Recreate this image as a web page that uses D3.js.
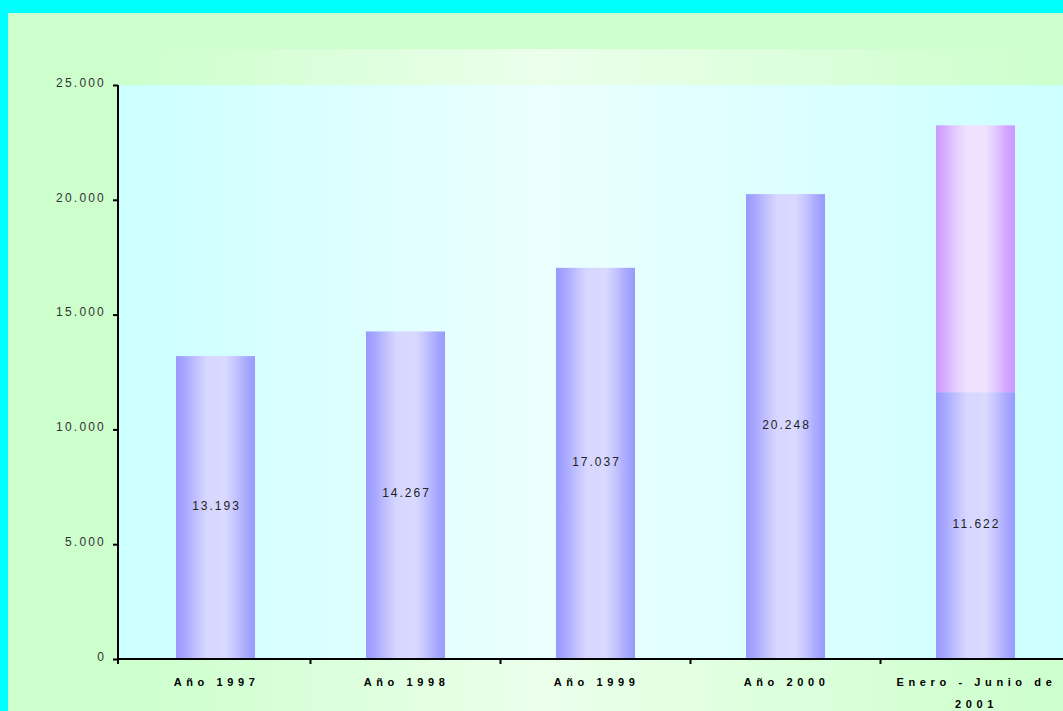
<!DOCTYPE html>
<html>
<head>
<meta charset="utf-8">
<script src="https://cdn.jsdelivr.net/npm/d3@7"></script>
<style>
  html, body { margin: 0; padding: 0; background: #00ffff; }
  .chart { width: 1063px; height: 711px; }
  text { font-family: 'Liberation Sans', Arial, sans-serif; }
</style>
</head>
<body>
<div class="chart"></div>
<script>
const categories = ['Año 1997', 'Año 1998', 'Año 1999', 'Año 2000', 'Enero - Junio de 2001'];
const base_values = [13193, 14267, 17037, 20248, 11622];
const extra_values = [0, 0, 0, 0, 11622];
const y_ticks = [0, 5000, 10000, 15000, 20000, 25000];

const width = 1063;
const height = 711;

const margin = { top: 85, left: 118, bottom: 52 };
const chart_height = height - margin.top - margin.bottom;

const svg = d3
  .select('.chart')
  .append('svg')
  .attr('width', width)
  .attr('height', height);

const defs = svg.append('defs');

function hGradient(id, stops) {
  const g = defs
    .append('linearGradient')
    .attr('id', id)
    .attr('x1', '0%')
    .attr('x2', '100%')
    .attr('y1', '0%')
    .attr('y2', '0%');
  stops.forEach(s => {
    g.append('stop').attr('offset', s[0]).attr('stop-color', s[1]);
  });
}

hGradient('bg-green', [['0%', '#ccffcc'], ['45%', '#ebffeb'], ['100%', '#ccffcc']]);
hGradient('bg-cyan', [['0%', '#ccffff'], ['45%', '#ebffff'], ['100%', '#ccffff']]);
hGradient('bar-blue', [
  ['0%', '#9999ff'], ['12%', '#a8a8ff'], ['25%', '#c0c0ff'], ['38%', '#d6d6ff'],
  ['62%', '#dadaff'], ['76%', '#c4c4ff'], ['88%', '#aaaaff'], ['100%', '#9999ff']
]);
hGradient('bar-purple', [
  ['0%', '#cc99ff'], ['12%', '#d6aeff'], ['25%', '#e4cdff'], ['38%', '#f0e0ff'],
  ['62%', '#f0e2ff'], ['76%', '#e2c8ff'], ['88%', '#d4a8ff'], ['100%', '#cc99ff']
]);

// outer green area
svg.append('rect')
  .attr('x', 8).attr('y', 13)
  .attr('width', width - 8).attr('height', height - 13)
  .attr('fill', '#ccffcc');

svg.append('rect')
  .attr('x', margin.left).attr('y', 49)
  .attr('width', width - margin.left).attr('height', height - 49)
  .attr('fill', 'url(#bg-green)');

svg.append('rect')
  .attr('x', margin.left).attr('y', margin.top)
  .attr('width', width - margin.left).attr('height', chart_height)
  .attr('fill', 'url(#bg-cyan)');

const x = d3.scaleBand()
  .domain(categories)
  .range([2.5, 952.5])
  .paddingInner(0.584)
  .paddingOuter(0.292);

const y = d3.scaleLinear().domain([0, 25000]).range([chart_height, 0]);

const fmt = v => d3.format(',')(v).replace(/,/g, '.');

const focus = svg.append('g')
  .attr('transform', 'translate(' + margin.left + ',' + margin.top + ')');

const data = categories.map((c, i) => ({ cat: c, base: base_values[i], extra: extra_values[i] }));

focus.selectAll('.bar-base')
  .data(data)
  .enter()
  .append('rect')
  .attr('class', 'bar-base')
  .attr('x', d => x(d.cat))
  .attr('width', x.bandwidth())
  .attr('y', d => y(d.base))
  .attr('height', d => y(0) - y(d.base))
  .attr('fill', 'url(#bar-blue)');

focus.selectAll('.bar-extra')
  .data(data.filter(d => d.extra > 0))
  .enter()
  .append('rect')
  .attr('class', 'bar-extra')
  .attr('x', d => x(d.cat))
  .attr('width', x.bandwidth())
  .attr('y', d => y(d.base + d.extra))
  .attr('height', d => y(d.base) - y(d.base + d.extra))
  .attr('fill', 'url(#bar-purple)');

focus.selectAll('.value')
  .data(data)
  .enter()
  .append('text')
  .attr('class', 'value')
  .attr('x', d => x(d.cat) + x.bandwidth() / 2 + 1)
  .attr('y', d => (y(0) + y(d.base)) / 2)
  .attr('dy', '0.18em')
  .attr('text-anchor', 'middle')
  .attr('font-size', 12)
  .attr('letter-spacing', 2)
  .attr('fill', '#222')
  .text(d => fmt(d.base));

// y axis
const yAxis = d3.axisLeft(y)
  .tickValues(y_ticks)
  .tickSize(5)
  .tickPadding(7)
  .tickFormat(fmt);

const gy = focus.append('g').call(yAxis);
gy.select('.domain').remove();
gy.selectAll('.tick line').attr('stroke', '#000').attr('stroke-width', 2);
gy.selectAll('.tick text')
  .attr('font-size', 12)
  .attr('letter-spacing', 2.2)
  .attr('dy', '0.1em')
  .attr('fill', '#333');

focus.append('line')
  .attr('x1', 0).attr('x2', 0)
  .attr('y1', 0).attr('y2', chart_height)
  .attr('stroke', '#000').attr('stroke-width', 2);

// x axis
const tick_positions = d3.range(categories.length + 1).map(i => x.range()[0] + i * x.step());
const gx = focus.append('g').attr('transform', 'translate(0,' + chart_height + ')');

gx.append('line')
  .attr('x1', 0).attr('x2', width - margin.left)
  .attr('stroke', '#000').attr('stroke-width', 2);

gx.selectAll('.xtick')
  .data(tick_positions.slice(1))
  .enter()
  .append('line')
  .attr('class', 'xtick')
  .attr('x1', d => d).attr('x2', d => d)
  .attr('y1', 0).attr('y2', 5)
  .attr('stroke', '#000').attr('stroke-width', 2);

gx.append('line')
  .attr('x1', 0).attr('x2', 0)
  .attr('y1', 0).attr('y2', 5)
  .attr('stroke', '#000').attr('stroke-width', 2);

gx.selectAll('.xlabel')
  .data(categories)
  .enter()
  .append('text')
  .attr('class', 'xlabel')
  .attr('text-anchor', 'middle')
  .attr('font-size', 11)
  .attr('font-weight', 'bold')
  .attr('letter-spacing', 4.6)
  .attr('fill', '#000')
  .each(function(d) {
    const lines = d.startsWith('Enero') ? ['Enero - Junio de', '2001'] : [d];
    const t = d3.select(this);
    lines.forEach((l, i) => {
      t.append('tspan')
        .attr('x', x(d) + x.bandwidth() / 2 + 1)
        .attr('y', 27 + i * 22)
        .text(l);
    });
  });
</script>
</body>
</html>
